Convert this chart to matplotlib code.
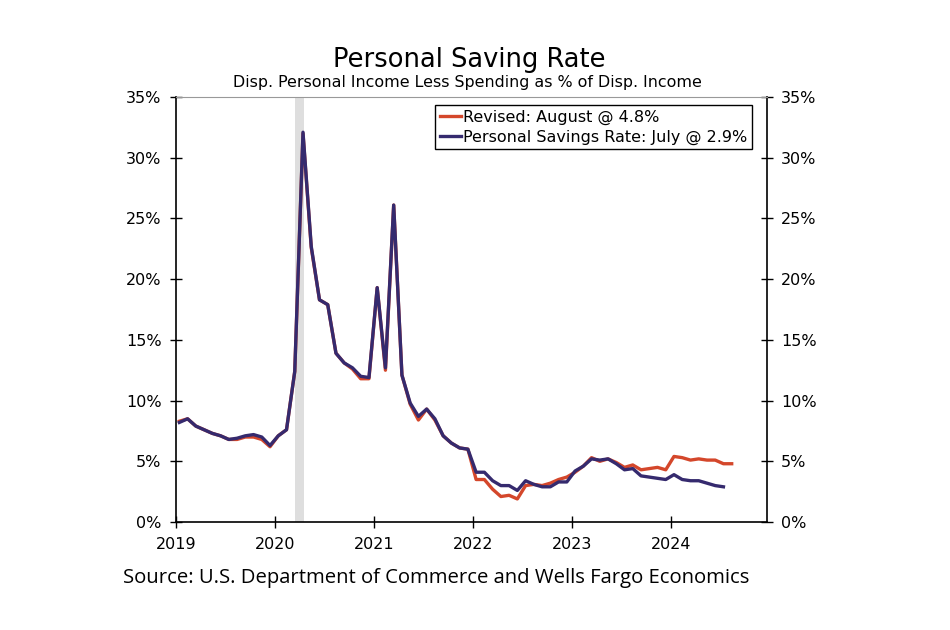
import numpy as np
import matplotlib.pyplot as plt
from matplotlib.ticker import FuncFormatter

# monthly saving rate, % of disposable income, starting Jan 2019
old_rate = [8.2, 8.5, 7.9, 7.6, 7.3, 7.1, 6.8, 6.9, 7.1, 7.2, 7.0, 6.3,
            7.1, 7.6, 12.4, 32.1, 22.7, 18.3, 17.9, 13.9, 13.1, 12.7, 12.0, 11.9,
            19.3, 12.7, 26.1, 12.1, 9.8, 8.7, 9.3, 8.5, 7.1, 6.5, 6.1, 6.0,
            4.1, 4.1, 3.4, 3.0, 3.0, 2.6, 3.4, 3.1, 2.9, 2.9, 3.3, 3.3,
            4.2, 4.6, 5.2, 5.1, 5.2, 4.8, 4.3, 4.4, 3.8, 3.7, 3.6, 3.5,
            3.9, 3.5, 3.4, 3.4, 3.2, 3.0, 2.9]
revised = [8.3, 8.5, 7.9, 7.6, 7.3, 7.1, 6.8, 6.8, 7.0, 7.0, 6.8, 6.2,
           7.1, 7.6, 12.4, 32.0, 22.6, 18.3, 17.9, 13.9, 13.1, 12.6, 11.8, 11.8,
           19.3, 12.5, 26.1, 12.1, 9.7, 8.4, 9.3, 8.4, 7.1, 6.5, 6.1, 6.0,
           3.5, 3.5, 2.7, 2.1, 2.2, 1.9, 3.0, 3.1, 3.0, 3.2, 3.5, 3.7,
           4.1, 4.6, 5.3, 5.0, 5.2, 4.9, 4.5, 4.7, 4.3, 4.4, 4.5, 4.3,
           5.4, 5.3, 5.1, 5.2, 5.1, 5.1, 4.8, 4.8]
years = [2019, 2020, 2021, 2022, 2023, 2024]
recession = (2020 + 2.45 / 12, 2020 + 3.5 / 12)

# points sit a bit into each month
x_old = 2019 + (np.arange(len(old_rate)) + 0.4) / 12
x_rev = 2019 + (np.arange(len(revised)) + 0.4) / 12

fig = plt.figure(figsize=(9.5, 6.3), dpi=100)
ax = fig.add_axes([0.1853, 0.1714, 0.6217, 0.6746])

ax.axvspan(*recession, color="#dedede", lw=0, zorder=0)
ax.plot(x_rev, revised, color="#d4472b", lw=2.4, label="Revised: August @ 4.8%")
ax.plot(x_old, old_rate, color="#352a6e", lw=2.4,
        label="Personal Savings Rate: July @ 2.9%")

ax.set_xlim(2019, 2024.97)
ax.set_ylim(0, 35)
ax.set_xticks(years)
ax.set_xticklabels([str(y) for y in years])
ax.set_yticks(np.arange(0, 36, 5))
pct = FuncFormatter(lambda v, p: f"{v:.0f}%")
ax.yaxis.set_major_formatter(pct)
ax.tick_params(axis="both", direction="inout", length=9, width=1,
               labelsize=11.5, pad=6)
ax.tick_params(axis="y", right=True, labelright=True)
for s in ["left", "bottom", "right"]:
    ax.spines[s].set_linewidth(1.2)
ax.spines["top"].set_color("#999999")

leg = ax.legend(loc="upper right", bbox_to_anchor=(0.976, 0.982), fontsize=11.5,
                handlelength=1.3, handletextpad=0.15, borderpad=0.3,
                labelspacing=0.3, borderaxespad=0, fancybox=False, framealpha=1)
leg.get_frame().set_edgecolor("black")
leg.get_frame().set_linewidth(1.0)

fig.text(0.494, 0.893, "Personal Saving Rate", ha="center", fontsize=18.5)
fig.text(0.492, 0.862, "Disp. Personal Income Less Spending as % of Disp. Income",
         ha="center", fontsize=11.4)
fig.text(0.129, 0.074, "Source: U.S. Department of Commerce and Wells Fargo Economics",
         fontsize=14.6, family="Open Sans")

fig.savefig("out.png", dpi=100)
